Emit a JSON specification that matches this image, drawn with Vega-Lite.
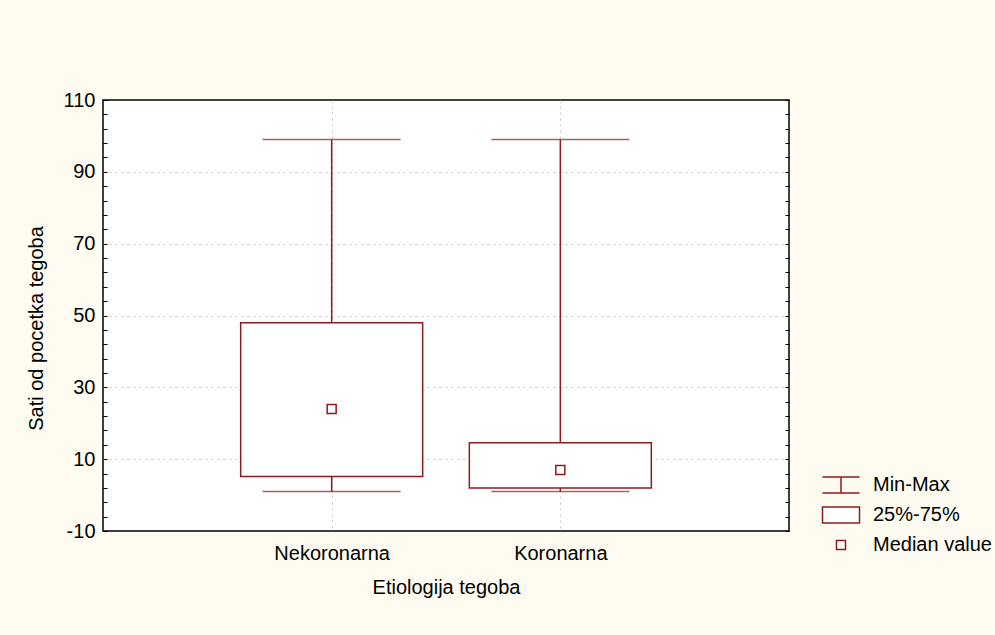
{
  "$schema": "https://vega.github.io/schema/vega-lite/v6.json",
  "width": 686,
  "height": 431,
  "autosize": {"type": "none"},
  "padding": {"left": 103, "top": 100, "right": 206, "bottom": 104},
  "background": "#fefcf1",
  "config": {
    "view": {"stroke": "black", "strokeWidth": 1.5, "fill": "white"},
    "font": "Liberation Sans",
    "axis": {"labelFont": "Liberation Sans", "titleFont": "Liberation Sans", "labelFontSize": 20, "titleFontSize": 20, "titleFontWeight": "normal", "labelColor": "black", "titleColor": "black"},
    "legend": {"labelFont": "Liberation Sans", "labelFontSize": 20, "labelColor": "black"}
  },
  "data": {
    "values": [
      {"cat": "Nekoronarna", "min": 1, "q1": 5.2, "med": 24, "q3": 48, "max": 99},
      {"cat": "Koronarna", "min": 1, "q1": 2, "med": 7, "q3": 14.6, "max": 99}
    ]
  },
  "encoding": {
    "x": {
      "field": "cat", "type": "nominal", "sort": ["Nekoronarna", "Koronarna"],
      "scale": {"type": "point", "padding": 1},
      "axis": {"title": "Etiologija tegoba", "labelAngle": 0, "domain": false, "ticks": false, "labelPadding": 12, "titlePadding": 14, "grid": true, "gridColor": "#c4c4c4", "gridDash": [2, 4], "gridWidth": 1}
    }
  },
  "resolve": {"axis": {"y": "independent"}},
  "layer": [
    {
      "mark": {"type": "rule", "color": "#8c1c1c", "strokeWidth": 1.5},
      "encoding": {
        "y": {
          "field": "min", "type": "quantitative",
          "scale": {"domain": [-10, 110], "nice": false, "zero": false},
          "axis": {
            "title": "Sati od pocetka tegoba", "orient": "left", "domain": false,
            "values": [110,106,102,98,94,90,86,82,78,74,70,66,62,58,54,50,46,42,38,34,30,26,22,18,14,10,6,2,-2,-6,-10],
            "labelExpr": "(datum.value + 10) % 20 === 0 ? '' + datum.value : ''",
            "tickSize": -4, "tickColor": "black", "tickWidth": 1,
            "labelPadding": 12, "titlePadding": 17, "titleY": 228,
            "grid": true, "gridColor": "#c4c4c4", "gridDash": [2, 4], "gridWidth": 1,
            "gridOpacity": {"condition": {"test": "(datum.value + 10) % 20 === 0 && datum.value > -10 && datum.value < 110", "value": 1}, "value": 0}
          }
        },
        "y2": {"field": "max"}
      }
    },
    {
      "mark": {"type": "tick", "color": "#8c1c1c", "thickness": 1.5, "size": 138, "orient": "horizontal"},
      "encoding": {"y": {"field": "min", "type": "quantitative", "axis": null}}
    },
    {
      "mark": {"type": "tick", "color": "#8c1c1c", "thickness": 1.5, "size": 138, "orient": "horizontal"},
      "encoding": {
        "y": {
          "field": "max", "type": "quantitative",
          "axis": {
            "orient": "right", "title": null, "labels": false, "domain": false, "grid": false,
            "values": [110,106,102,98,94,90,86,82,78,74,70,66,62,58,54,50,46,42,38,34,30,26,22,18,14,10,6,2,-2,-6,-10],
            "tickSize": -4, "tickColor": "black", "tickWidth": 1
          }
        }
      }
    },
    {
      "mark": {"type": "bar", "width": 182, "fill": "white", "stroke": "#8c1c1c", "strokeWidth": 1.5},
      "encoding": {
        "y": {"field": "q1", "type": "quantitative", "axis": null},
        "y2": {"field": "q3"}
      }
    },
    {
      "mark": {"type": "point", "filled": true, "fill": "white", "stroke": "#8c1c1c", "strokeWidth": 1.5, "size": 400, "opacity": 1},
      "encoding": {
        "y": {"field": "med", "type": "quantitative", "axis": null},
        "shape": {
          "datum": "Median value",
          "scale": {
            "domain": ["Min-Max", "25%-75%", "Median value"],
            "range": ["M-1.85,-0.8H1.85M0,-0.8V0.8M-1.85,0.8H1.85", "M-1.85,-0.8H1.85V0.8H-1.85Z", "M-0.45,-0.45H0.45V0.45H-0.45Z"]
          },
          "legend": {
            "title": null, "orient": "none", "legendX": 727, "legendY": 374,
            "symbolSize": 400,
            "labelOffset": 21, "rowPadding": 8, "padding": 0,
            "encode": {"symbols": {"update": {"stroke": {"value": "#8c1c1c"}, "strokeWidth": {"value": 1.5}, "fill": {"value": "white"}, "opacity": {"value": 1}}}}
          }
        }
      }
    }
  ]
}
